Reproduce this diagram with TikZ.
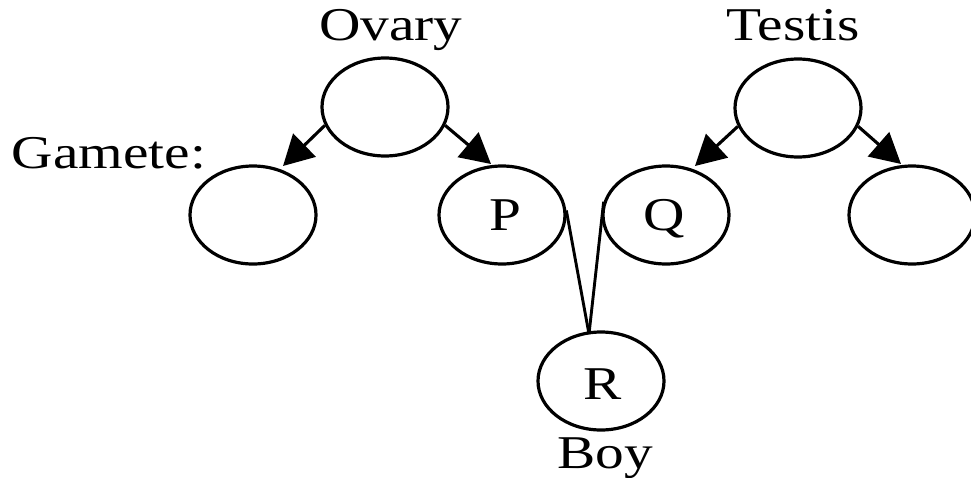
\documentclass[tikz,border=0pt]{standalone}
\usepackage{fontspec}
\setmainfont{Liberation Serif}
\usetikzlibrary{shapes.geometric,arrows.meta}
\begin{document}
\begin{tikzpicture}[x=1pt,y=-1pt,
  cell/.style={draw,line width=3.2pt,ellipse,minimum width=126pt,minimum height=98pt,inner sep=0pt},
  lbl/.style={font=\fontsize{47}{52}\selectfont,inner sep=0pt,anchor=base,xscale=1.22},
  arr/.style={line width=3.1pt,-{Triangle[length=30pt,width=32pt]}},
  ln/.style={line width=2.9pt}]
\useasboundingbox (0,0) rectangle (971,477);
\node[cell] (ovary) at (385,107) {};
\node[cell] (testis) at (798,108) {};
\node[cell] (g1) at (253,215) {};
\node[cell] (p) at (502,215) {};
\node[cell] (q) at (666,215) {};
\node[cell] (g4) at (912,215) {};
\node[cell] (r) at (601,381) {};
\node[lbl] (tp) at (505,230) {P};
\node[lbl] (tq) at (664,230) {Q};
\node[lbl] (tr) at (603,399) {R};
\node[lbl] (tov) at (391,40) {Ovary};
\node[lbl] (tte) at (793,40) {Testis};
\node[lbl] (tga) at (109,168) {Gamete:};
\node[lbl] (tboy) at (605,468) {Boy};
\coordinate (a1) at (283,166);
\coordinate (a2) at (491,164);
\coordinate (a3) at (695,166);
\coordinate (a4) at (901,164);
\coordinate (m) at (589,334);
\draw[arr] (ovary.197) -- (a1);
\draw[arr] (ovary.-17) -- (a2);
\draw[arr] (testis.197) -- (a3);
\draw[arr] (testis.-17) -- (a4);
\draw[ln] (p.4) -- (m);
\draw[ln] (q.168) -- (m);
\end{tikzpicture}
\end{document}
